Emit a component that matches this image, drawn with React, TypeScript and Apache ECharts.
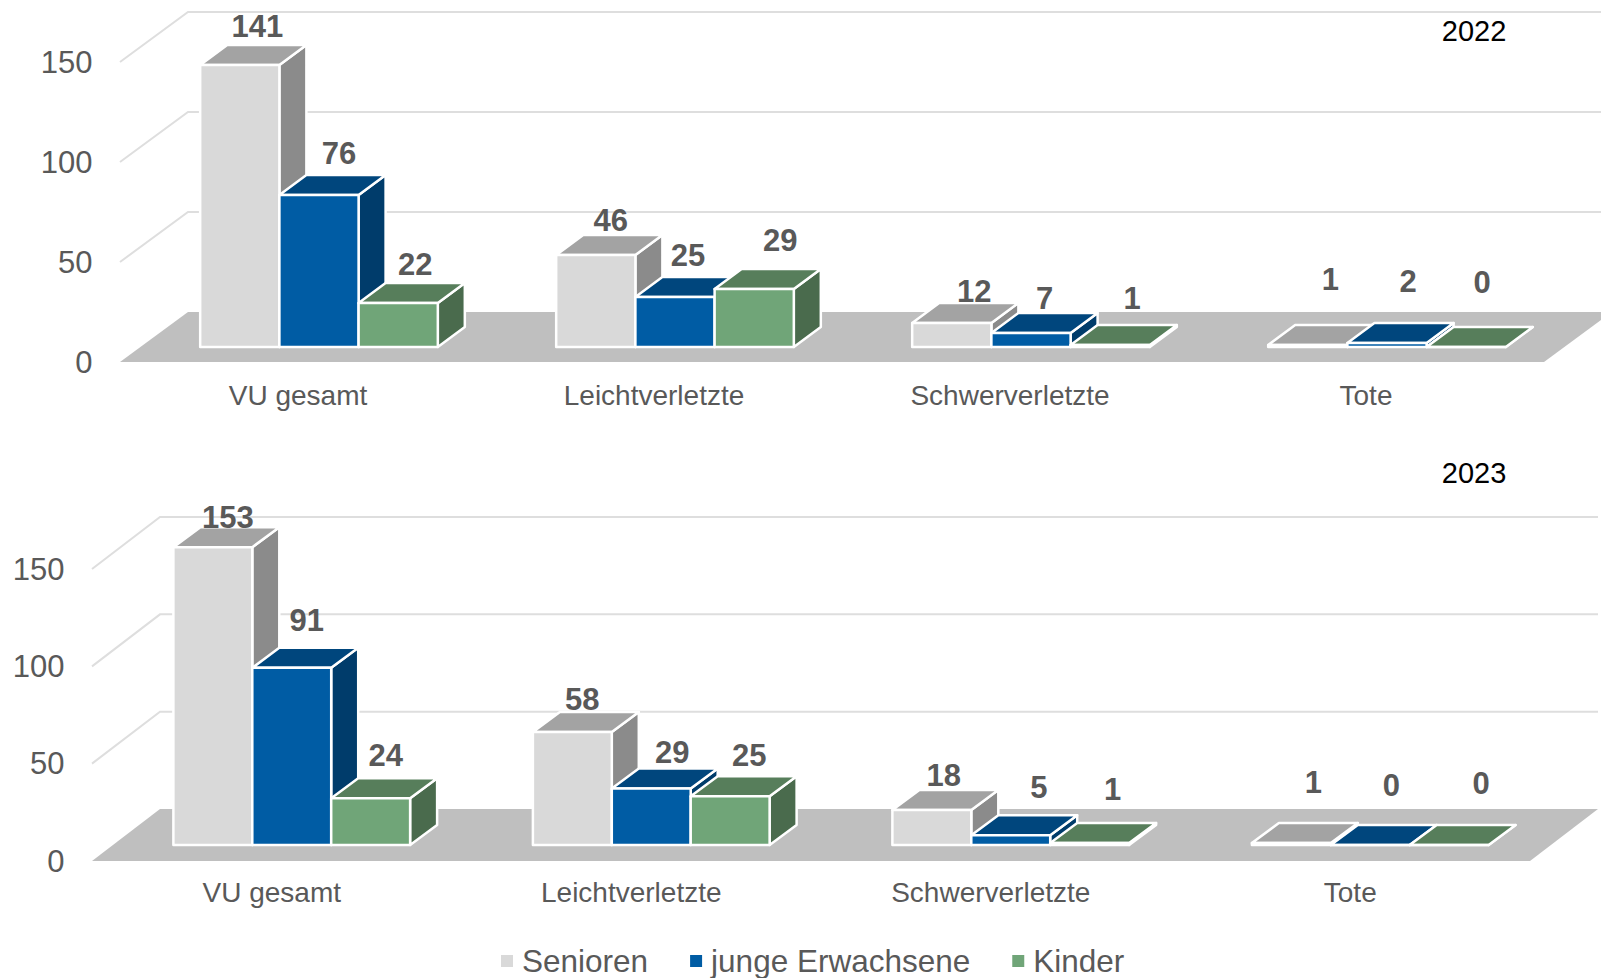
import React, { useEffect, useRef } from "react";
import * as echarts from "echarts";

const categories = ["VU gesamt", "Leichtverletzte", "Schwerverletzte", "Tote"];
const seriesNames = ["Senioren", "junge Erwachsene", "Kinder"];
const ticks = [0, 50, 100, 150];

const senioren2022 = [141, 46, 12, 1];
const jungeErwachsene2022 = [76, 25, 7, 2];
const kinder2022 = [22, 29, 1, 0];
const senioren2023 = [153, 58, 18, 1];
const jungeErwachsene2023 = [91, 29, 5, 0];
const kinder2023 = [24, 25, 1, 0];

// hand placement of the value labels relative to each column's front top centre
const labelShift2022 = [
  [[17.5, -39], [15, -35], [22.5, -32], [22.5, -66]],
  [[20, -42], [13, -42], [13.5, -35], [21, -62]],
  [[17, -39], [26, -49], [22, -47], [16, -65]],
];
const labelShift2023 = [
  [[15, -30], [10, -33], [12, -34], [22, -61]],
  [[15, -47], [21, -36.5], [28, -48], [21, -60]],
  [[15, -43], [19, -41], [23, -54], [32, -62]],
];

const faceColors = [
  { front: "#D9D9D9", top: "#A3A3A3", side: "#8B8B8B" },
  { front: "#005CA4", top: "#00467D", side: "#003C6B" },
  { front: "#70A578", top: "#577E5B", side: "#4A6B4D" },
];

const FONT = "Liberation Sans";
const TEXT = "#595959";

function columnSeries(
  name: string,
  values: number[],
  shifts: number[][],
  colors: { front: string; top: string; side: string },
  slot: number,
  gridIndex: number,
  plane: { dx: number; dy: number; band: number },
) {
  const renderItem = (_p: any, api: any) => {
    const i = api.value(0);
    const v = api.value(1);
    const base = api.coord([i, 0]);
    const head = api.coord([i, v]);
    const w = api.size([1, 0])[0] * plane.band;
    const cx = base[0] + plane.dx + slot * w;
    const x0 = cx - w / 2;
    const x1 = cx + w / 2;
    const yb = base[1] + plane.dy;
    const yt = head[1] + plane.dy;
    const ddx = 27;
    const ddy = -20;
    const stroke = { stroke: "#FFFFFF", lineWidth: 2.5, lineJoin: "round" };
    const s = shifts[i];
    return {
      type: "group",
      children: [
        {
          type: "polygon",
          shape: { points: [[x1, yb], [x1 + ddx, yb + ddy], [x1 + ddx, yt + ddy], [x1, yt]] },
          style: { fill: colors.side, ...stroke },
        },
        {
          type: "polygon",
          shape: { points: [[x0, yt], [x0 + ddx, yt + ddy], [x1 + ddx, yt + ddy], [x1, yt]] },
          style: { fill: colors.top, ...stroke },
        },
        {
          type: "rect",
          shape: { x: x0, y: yt, width: w, height: yb - yt },
          style: { fill: colors.front, ...stroke },
        },
        {
          type: "text",
          z2: 20,
          style: {
            x: cx + s[0],
            y: yt + s[1],
            text: String(v),
            fill: TEXT,
            font: `bold 31px "${FONT}"`,
            textAlign: "center",
            textVerticalAlign: "middle",
          },
        },
      ],
    };
  };
  return {
    type: "custom",
    name,
    xAxisIndex: gridIndex,
    yAxisIndex: gridIndex,
    coordinateSystem: "cartesian2d",
    encode: { x: 0, y: 1 },
    itemStyle: { color: colors.front },
    data: values.map((v, i) => [i, v]),
    renderItem,
    z: 3,
  };
}

function sceneSeries(gridIndex: number, depth: { dx: number; dy: number }) {
  const renderItem = (p: any, api: any) => {
    const t = api.value(1);
    const a = api.coord([0, t]);
    const left = p.coordSys.x;
    const right = p.coordSys.x + p.coordSys.width;
    if (t === 0) {
      return {
        type: "polygon",
        shape: {
          points: [
            [left, a[1]],
            [left + depth.dx, a[1] + depth.dy],
            [right + depth.dx, a[1] + depth.dy],
            [right, a[1]],
          ],
        },
        style: { fill: "#BFBFBF" },
      };
    }
    return {
      type: "polyline",
      shape: {
        points: [
          [left, a[1]],
          [left + depth.dx, a[1] + depth.dy],
          [right + depth.dx, a[1] + depth.dy],
        ],
      },
      style: { fill: "none", stroke: "#DEDEDE", lineWidth: 2 },
    };
  };
  return {
    type: "custom",
    name: "Wand",
    xAxisIndex: gridIndex,
    yAxisIndex: gridIndex,
    coordinateSystem: "cartesian2d",
    encode: { x: 0, y: 1 },
    data: ticks.map((t) => [0, t]),
    renderItem,
    z: 1,
  };
}

function xAxis(gridIndex: number, margin: number) {
  return {
    type: "category",
    gridIndex,
    data: categories,
    axisLine: { show: false },
    axisTick: { show: false },
    axisLabel: { color: TEXT, fontFamily: FONT, fontSize: 28, margin, interval: 0 },
  };
}

function yAxis(gridIndex: number) {
  return {
    type: "value",
    gridIndex,
    min: 0,
    max: 150,
    interval: 50,
    axisLine: { show: false },
    axisTick: { show: false },
    splitLine: { show: false },
    axisLabel: { color: TEXT, fontFamily: FONT, fontSize: 31, margin: 27.5, padding: [0, 0, 2, 0] },
  };
}

export default function App() {
  const ref = useRef<HTMLDivElement>(null);
  useEffect(() => {
    const chart = echarts.init(ref.current!, undefined, { renderer: "svg" });
    const plane1 = { dx: 21, dy: -15, band: 0.2225 };
    const plane2 = { dx: 20, dy: -16, band: 0.2195 };
    chart.setOption({
      animation: false,
      backgroundColor: "#FFFFFF",
      grid: [
        { left: 120, width: 1424, top: 62, height: 300 },
        { left: 92, width: 1438, top: 569, height: 292 },
      ],
      xAxis: [xAxis(0, 19), xAxis(1, 17)],
      yAxis: [yAxis(0), yAxis(1)],
      legend: {
        left: 501,
        top: 945,
        selectedMode: false,
        icon: "rect",
        itemWidth: 12,
        itemHeight: 12,
        itemGap: 42,
        padding: 0,
        textStyle: { color: TEXT, fontFamily: FONT, fontSize: 31.5, padding: [0, 0, 0, 4] },
        data: seriesNames.map((name, k) => ({ name, itemStyle: { color: faceColors[k].front } })),
      },
      graphic: [
        {
          type: "text",
          x: 1474,
          y: 31,
          style: { text: "2022", fill: "#000000", font: `29px "${FONT}"`, textAlign: "center", textVerticalAlign: "middle" },
        },
        {
          type: "text",
          x: 1474,
          y: 473,
          style: { text: "2023", fill: "#000000", font: `29px "${FONT}"`, textAlign: "center", textVerticalAlign: "middle" },
        },
      ],
      series: [
        sceneSeries(0, { dx: 68, dy: -50 }),
        columnSeries(seriesNames[0], senioren2022, labelShift2022[0], faceColors[0], -1, 0, plane1),
        columnSeries(seriesNames[1], jungeErwachsene2022, labelShift2022[1], faceColors[1], 0, 0, plane1),
        columnSeries(seriesNames[2], kinder2022, labelShift2022[2], faceColors[2], 1, 0, plane1),
        sceneSeries(1, { dx: 68, dy: -52 }),
        columnSeries(seriesNames[0], senioren2023, labelShift2023[0], faceColors[0], -1, 1, plane2),
        columnSeries(seriesNames[1], jungeErwachsene2023, labelShift2023[1], faceColors[1], 0, 1, plane2),
        columnSeries(seriesNames[2], kinder2023, labelShift2023[2], faceColors[2], 1, 1, plane2),
      ],
    });
    return () => chart.dispose();
  }, []);
  return <div ref={ref} style={{ position: "absolute", left: 0, top: 0, width: 1601, height: 978 }} />;
}
